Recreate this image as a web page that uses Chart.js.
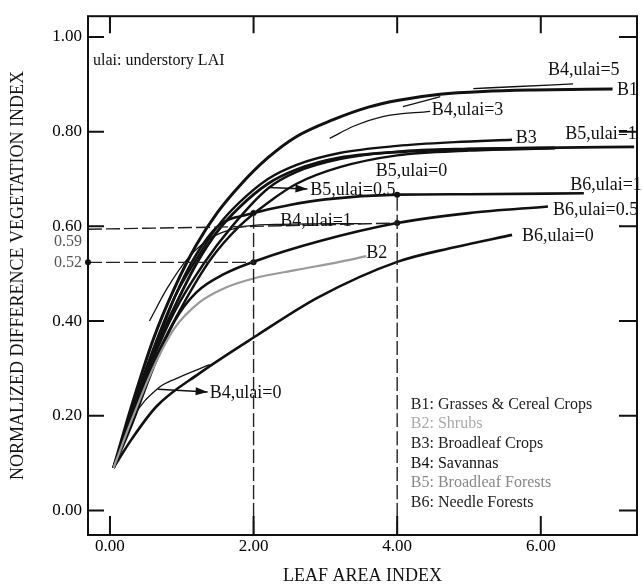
<!DOCTYPE html>
<html>
<head>
<meta charset="utf-8">
<script src="https://cdn.jsdelivr.net/npm/chart.js@4.4.1/dist/chart.umd.min.js"></script>
<style>
  html, body { margin: 0; padding: 0; background: #fff; }
</style>
</head>
<body>
<canvas id="myChart" width="642" height="587"></canvas>
<script>
// axis ticks
const xTicks = [0, 2, 4, 6];
const yTicks = [0, 0.2, 0.4, 0.6, 0.8, 1.0];
const X_MIN = -0.306, X_MAX = 7.34;
const Y_MIN = -0.052, Y_MAX = 1.044;

// curves: [LAI, NDVI]
const b1 = [[0.05,0.09],[0.3,0.22],[0.6,0.36],[0.9,0.47],[1.2,0.56],[1.5,0.63],[1.8,0.685],[2.2,0.745],[2.6,0.79],[3.1,0.825],[3.6,0.852],[4.0,0.866],[4.6,0.879],[5.2,0.885],[5.9,0.888],[7.0,0.89]];
const b3 = [[0.05,0.09],[0.3,0.21],[0.6,0.34],[0.9,0.45],[1.2,0.53],[1.5,0.6],[1.8,0.65],[2.2,0.7],[2.6,0.73],[3.2,0.755],[4.0,0.77],[4.8,0.778],[5.6,0.783]];
const b5u1 = [[0.05,0.09],[0.3,0.2],[0.6,0.33],[0.9,0.43],[1.2,0.52],[1.5,0.59],[1.8,0.64],[2.2,0.69],[2.6,0.72],[3.2,0.745],[4.0,0.757],[5.0,0.763],[6.0,0.766],[7.3,0.768]];
const b5u05 = [[0.05,0.09],[0.3,0.2],[0.6,0.32],[0.9,0.42],[1.3,0.52],[1.7,0.6],[2.2,0.68],[2.6,0.715],[3.2,0.742],[4.0,0.758],[5.0,0.764],[6.2,0.766]];
const b5u0 = [[0.05,0.09],[0.3,0.19],[0.6,0.31],[1.0,0.43],[1.4,0.53],[1.8,0.6],[2.2,0.65],[2.6,0.69],[3.2,0.725],[4.0,0.75],[5.0,0.76],[6.2,0.765]];
const b6u1 = [[0.05,0.09],[0.3,0.2],[0.6,0.33],[0.9,0.45],[1.2,0.54],[1.5,0.6],[2.0,0.628],[2.5,0.645],[3.0,0.657],[4.0,0.667],[5.0,0.668],[6.6,0.67]];
const b6u05 = [[0.05,0.09],[0.3,0.18],[0.6,0.3],[0.9,0.4],[1.2,0.46],[1.6,0.5],[2.05,0.528],[2.9,0.568],[4.0,0.607],[5.0,0.628],[6.1,0.642]];
const b6u0 = [[0.05,0.09],[0.3,0.15],[0.65,0.22],[1.25,0.29],[2.05,0.37],[2.9,0.45],[4.0,0.525],[4.8,0.556],[5.6,0.582]];
const b2 = [[0.05,0.09],[0.3,0.19],[0.6,0.3],[0.9,0.385],[1.25,0.44],[1.6,0.47],[2.0,0.49],[2.6,0.508],[3.2,0.525],[3.57,0.537]];
const b4u0 = [[0.05,0.09],[0.32,0.195],[0.67,0.258],[0.93,0.279],[1.39,0.308]];
const b4u1 = [[0.55,0.40],[0.8,0.47],[1.1,0.535],[1.4,0.575],[1.8,0.598],[2.3,0.604],[3.5,0.606]];
const b4u3 = [[3.06,0.786],[3.4,0.812],[3.8,0.832],[4.46,0.843]];
const b4u5a = [[4.08,0.853],[4.6,0.874]];
const b4u5b = [[5.06,0.891],[5.61,0.895],[6.45,0.901]];

// reading lines and marked points
const guide059 = [[X_MIN,0.594],[2.0,0.6],[4.0,0.607]];
const guide052 = [[X_MIN,0.524],[2.0,0.524]];
const guideX2 = [[2,Y_MIN],[2,0.635]];
const guideX4 = [[4,Y_MIN],[4,0.667]];
const markLai = [2, 2, 4, 4];
const markNdvi = [0.524, 0.628, 0.607, 0.667];

const curveLabels = [
  ['B4,ulai=5', 6.1, 0.929], ['B1', 7.06, 0.887], ['B4,ulai=3', 4.48, 0.845],
  ['B3', 5.65, 0.786], ['B5,ulai=1', 6.34, 0.795], ['B5,ulai=0', 3.7, 0.717],
  ['B5,ulai=0.5', 2.79, 0.677], ['B6,ulai=1', 6.41, 0.686], ['B6,ulai=0.5', 6.17, 0.635],
  ['B6,ulai=0', 5.74, 0.579], ['B2', 3.57, 0.543], ['B4,ulai=1', 2.37, 0.61],
  ['B4,ulai=0', 1.39, 0.247]
];
const arrows = [[[2.2,0.682],[2.75,0.679]], [[0.67,0.256],[1.36,0.25]]];
const legendItems = ['B1: Grasses & Cereal Crops', 'B2: Shrubs', 'B3: Broadleaf Crops', 'B4: Savannas', 'B5: Broadleaf Forests', 'B6: Needle Forests'];
const legendColors = ['#222', '#aaa', '#222', '#111', '#888', '#222'];

const SERIF = '"Liberation Serif", "DejaVu Serif", serif';

function curve(pts, width, color, dash) {
  return {
    data: pts.map(p => ({x: p[0], y: p[1]})),
    borderColor: color || '#111',
    borderWidth: width,
    borderDash: dash || [],
    pointRadius: 0,
    fill: false,
    cubicInterpolationMode: 'monotone',
  };
}

const decor = {
  id: 'decor',
  afterDatasetsDraw(chart) {
    const {ctx, chartArea: a, scales: {x, y}} = chart;
    ctx.save();
    ctx.strokeStyle = '#111';
    ctx.lineWidth = 2;
    ctx.strokeRect(a.left, a.top, a.right - a.left, a.bottom - a.top);
    // inward ticks
    ctx.beginPath();
    xTicks.forEach(v => {
      const px = x.getPixelForValue(v);
      ctx.moveTo(px, a.bottom); ctx.lineTo(px, a.bottom - 19);
      ctx.moveTo(px, a.top); ctx.lineTo(px, a.top + 17);
    });
    yTicks.forEach(v => {
      const py = y.getPixelForValue(v);
      ctx.moveTo(a.left, py); ctx.lineTo(a.left + 16, py);
      ctx.moveTo(a.right, py); ctx.lineTo(a.right - 18, py);
    });
    ctx.stroke();
    // dot on axis at 0.52
    ctx.fillStyle = '#111';
    ctx.beginPath();
    ctx.arc(a.left, y.getPixelForValue(0.524), 3, 0, Math.PI * 2);
    ctx.fill();
    // arrows
    ctx.lineWidth = 1.6;
    arrows.forEach(([p0, p1]) => {
      const x0 = x.getPixelForValue(p0[0]), y0 = y.getPixelForValue(p0[1]);
      const x1 = x.getPixelForValue(p1[0]), y1 = y.getPixelForValue(p1[1]);
      ctx.beginPath(); ctx.moveTo(x0, y0); ctx.lineTo(x1, y1); ctx.stroke();
      const ang = Math.atan2(y1 - y0, x1 - x0);
      ctx.beginPath();
      ctx.moveTo(x1, y1);
      ctx.lineTo(x1 - 12 * Math.cos(ang) + 4 * Math.sin(ang), y1 - 12 * Math.sin(ang) - 4 * Math.cos(ang));
      ctx.lineTo(x1 - 12 * Math.cos(ang) - 4 * Math.sin(ang), y1 - 12 * Math.sin(ang) + 4 * Math.cos(ang));
      ctx.closePath(); ctx.fill();
    });
    // extra axis readings
    ctx.font = '16px ' + SERIF;
    ctx.fillStyle = '#555';
    ctx.textAlign = 'right';
    ctx.textBaseline = 'middle';
    ctx.fillText('0.59', a.left - 6, y.getPixelForValue(0.594) + 13);
    ctx.fillText('0.52', a.left - 6, y.getPixelForValue(0.524));
    // curve labels
    ctx.textAlign = 'left';
    ctx.fillStyle = '#111';
    ctx.font = '18px ' + SERIF;
    curveLabels.forEach(([t, lx, ly]) => {
      ctx.fillText(t, x.getPixelForValue(lx), y.getPixelForValue(ly));
    });
    // note
    ctx.font = '16px ' + SERIF;
    ctx.fillText('ulai: understory LAI', a.left + 5, a.top + 45);
    // legend box
    const lx = x.getPixelForValue(4.19);
    const ly = y.getPixelForValue(0.224);
    legendItems.forEach((t, i) => {
      ctx.fillStyle = legendColors[i];
      ctx.fillText(t, lx, ly + i * 19.7);
    });
    ctx.restore();
  }
};

const ctx = document.getElementById('myChart').getContext('2d');
const myChart = new Chart(ctx, {
  type: 'line',
  data: {
    datasets: [
      curve(guide059, 1.4, '#222', [14, 4]),
      curve(guide052, 1.4, '#222', [14, 4]),
      curve(guideX2, 1.4, '#222', [14, 4]),
      curve(guideX4, 1.4, '#222', [14, 4]),
      curve(b2, 2.2, '#9a9a9a'),
      curve(b6u0, 2.6),
      curve(b6u05, 2.6),
      curve(b6u1, 2.6),
      curve(b5u0, 2.4),
      curve(b5u05, 2.4),
      curve(b5u1, 2.8),
      curve(b3, 2.4),
      curve(b1, 3),
      curve(b4u0, 1.3),
      curve(b4u1, 1.3),
      curve(b4u3, 1.3),
      curve(b4u5a, 1.3),
      curve(b4u5b, 1.3),
      {
        data: markLai.map((v, i) => ({x: v, y: markNdvi[i]})),
        showLine: false,
        pointRadius: 3,
        pointBackgroundColor: '#111',
        pointBorderWidth: 0,
      },
    ],
  },
  options: {
    responsive: false,
    animation: false,
    layout: { padding: { top: 12, right: 5, left: 0, bottom: 0 } },
    plugins: { legend: { display: false }, tooltip: { enabled: false } },
    scales: {
      x: {
        type: 'linear',
        min: X_MIN,
        max: X_MAX,
        grid: { display: false, drawTicks: false },
        border: { display: false },
        afterBuildTicks: s => { s.ticks = xTicks.map(v => ({value: v})); },
        afterFit: s => { s.height = 52; },
        ticks: {
          padding: 1,
          color: '#000',
          font: { family: SERIF, size: 17 },
          callback: v => v.toFixed(2),
        },
        title: {
          display: true,
          text: 'LEAF AREA INDEX',
          color: '#111',
          font: { family: SERIF, size: 18 },
          padding: { top: 0, bottom: 0 },
        },
      },
      y: {
        min: Y_MIN,
        max: Y_MAX,
        grid: { display: false, drawTicks: false },
        border: { display: false },
        afterBuildTicks: s => { s.ticks = yTicks.map(v => ({value: v})); },
        afterFit: s => { s.width = 88; },
        ticks: {
          padding: 6,
          color: '#000',
          font: { family: SERIF, size: 17 },
          callback: v => v.toFixed(2),
        },
        title: {
          display: true,
          text: 'NORMALIZED DIFFERENCE VEGETATION INDEX',
          color: '#111',
          font: { family: SERIF, size: 18 },
          padding: { top: 7, bottom: 0 },
        },
      },
    },
  },
  plugins: [decor],
});
</script>
</body>
</html>
